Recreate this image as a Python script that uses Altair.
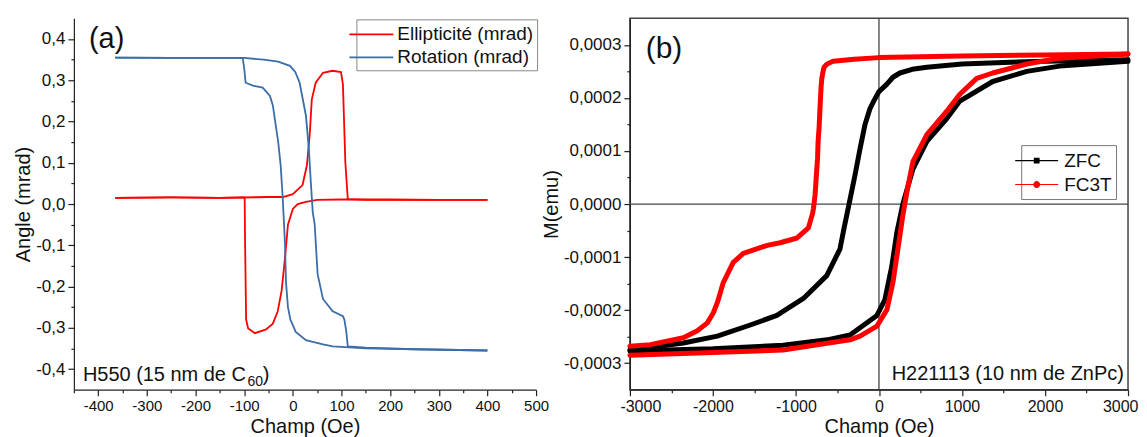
import altair as alt
import pandas as pd

FONT = "Liberation Sans"

# ---------------- panel (a): Kerr loops (H in Oe, angle in mrad) ----------------
A_SERIES = ["Ellipticité (mrad)", "Rotation (mrad)"]
A_COLORS = ["#ff0000", "#3b6ea8"]

ELL_DOWN_H = [400, 300, 200, 100, 50, 27, 10, 0, -10, -16, -23, -31, -41, -55, -78, -92, -96, -98, -99, -150, -250, -365]
ELL_DOWN_V = [0.010, 0.010, 0.011, 0.011, 0.010, 0.005, 0.0, -0.012, -0.05, -0.13, -0.21, -0.26, -0.29, -0.304, -0.313, -0.301, -0.28, -0.10, 0.016, 0.015, 0.016, 0.015]

ELL_UP_H = [-365, -250, -150, -50, -20, 0, 20, 29, 35, 39, 47, 62, 82, 99, 103, 108, 113, 150, 250, 400]
ELL_UP_V = [0.015, 0.016, 0.015, 0.017, 0.017, 0.024, 0.046, 0.094, 0.173, 0.253, 0.294, 0.318, 0.323, 0.320, 0.29, 0.10, 0.012, 0.010, 0.010, 0.010]

ROT_UP_H = [-365, -250, -150, -100, -60, -30, -6, 5, 14, 27, 33, 37, 41, 45, 51, 62, 82, 103, 106, 110, 113, 150, 250, 400]
ROT_UP_V = [0.355, 0.354, 0.354, 0.354, 0.350, 0.345, 0.335, 0.320, 0.294, 0.214, 0.133, 0.053, -0.02, -0.05, -0.17, -0.23, -0.26, -0.272, -0.28, -0.31, -0.345, -0.348, -0.352, -0.355]

ROT_DOWN_H = [400, 250, 150, 82, 62, 27, 6, -5, -10, -14, -16, -18, -21, -25, -30, -35, -41, -47, -62, -82, -97, -100, -103, -250, -365]
ROT_DOWN_V = [-0.355, -0.352, -0.350, -0.345, -0.340, -0.330, -0.310, -0.28, -0.25, -0.19, -0.10, -0.05, 0.02, 0.094, 0.150, 0.190, 0.239, 0.262, 0.282, 0.287, 0.294, 0.330, 0.354, 0.354, 0.355]

# ---------------- panel (b): SQUID loops (H in Oe, M in emu) ----------------
B_SERIES = ["ZFC", "FC3T"]
B_COLORS = ["#000000", "#ff0000"]

ZFC_DOWN_H = [3000, 2000, 1500, 1000, 577, 400, 252, 168, 96, 0, -60, -108, -168, -228, -288, -360, -420, -470, -629, -910, -1230, -1550, -1947, -2356, -3000]
ZFC_DOWN_M = [2.72e-4, 2.69e-4, 2.67e-4, 2.64e-4, 2.58e-4, 2.54e-4, 2.47e-4, 2.39e-4, 2.26e-4, 2.12e-4, 1.95e-4, 1.80e-4, 1.50e-4, 1.04e-4, 0.55e-4, 0.0, -0.45e-4, -0.85e-4, -1.35e-4, -1.78e-4, -2.10e-4, -2.28e-4, -2.49e-4, -2.62e-4, -2.75e-4]

ZFC_UP_H = [-3000, -2000, -1154, -625, -349, -228, -24, 72, 156, 216, 288, 409, 577, 817, 974, 1370, 1780, 2175, 3000]
ZFC_UP_M = [-2.77e-4, -2.73e-4, -2.66e-4, -2.56e-4, -2.47e-4, -2.33e-4, -2.10e-4, -1.80e-4, -1.16e-4, -0.53e-4, 0.0, 0.66e-4, 1.18e-4, 1.61e-4, 1.94e-4, 2.31e-4, 2.50e-4, 2.60e-4, 2.69e-4]

FC_DOWN_H = [3000, 2000, 1000, 0, -300, -553, -625, -661, -668, -680, -688, -697, -703, -712, -720, -733, -740, -752, -762, -770, -781, -790, -800, -850, -986, -1190, -1346, -1500, -1634, -1755, -1875, -1947, -1995, -2067, -2188, -2356, -2752, -3000]
FC_DOWN_M = [2.83e-4, 2.81e-4, 2.79e-4, 2.76e-4, 2.73e-4, 2.69e-4, 2.64e-4, 2.58e-4, 2.54e-4, 2.44e-4, 2.37e-4, 2.21e-4, 2.03e-4, 1.75e-4, 1.47e-4, 1.18e-4, 0.85e-4, 0.59e-4, 0.34e-4, 0.17e-4, 0.02e-4, -0.09e-4, -0.18e-4, -0.45e-4, -0.64e-4, -0.73e-4, -0.78e-4, -0.86e-4, -0.93e-4, -1.10e-4, -1.48e-4, -1.86e-4, -2.05e-4, -2.24e-4, -2.39e-4, -2.52e-4, -2.65e-4, -2.68e-4]

FC_UP_H = [-3000, -2000, -1154, -349, -228, -24, 96, 168, 228, 288, 337, 409, 577, 817, 974, 1178, 1370, 1780, 2175, 3000]
FC_UP_M = [-2.85e-4, -2.80e-4, -2.75e-4, -2.56e-4, -2.49e-4, -2.30e-4, -1.99e-4, -1.48e-4, -0.85e-4, -0.21e-4, 0.23e-4, 0.80e-4, 1.31e-4, 1.75e-4, 2.07e-4, 2.37e-4, 2.47e-4, 2.64e-4, 2.75e-4, 2.83e-4]

# annotations: text, H, value
A_NOTES = [("(a)", -419, 0.377)]
A_SAMPLE = [("H550 (15 nm de C", -431.5, -0.428), (")", -62, -0.428)]
A_SUB = [("60", -93, -0.440)]
B_NOTES = [("(b)", -2810, 2.747e-4)]
B_SAMPLE = [("H221113 (10 nm de ZnPc)", 2950, -3.312e-4)]


def branch(series, name, h, v):
    return pd.DataFrame({"H": h, "V": v, "series": series, "branch": name, "idx": list(range(len(h)))})


dfa = pd.concat([
    branch(A_SERIES[0], "e_down", ELL_DOWN_H, ELL_DOWN_V),
    branch(A_SERIES[0], "e_up", ELL_UP_H, ELL_UP_V),
    branch(A_SERIES[1], "r_up", ROT_UP_H, ROT_UP_V),
    branch(A_SERIES[1], "r_down", ROT_DOWN_H, ROT_DOWN_V),
], ignore_index=True)

dfb = pd.concat([
    branch(B_SERIES[0], "z_down", ZFC_DOWN_H, ZFC_DOWN_M),
    branch(B_SERIES[0], "z_up", ZFC_UP_H, ZFC_UP_M),
    branch(B_SERIES[1], "f_down", FC_DOWN_H, FC_DOWN_M),
    branch(B_SERIES[1], "f_up", FC_UP_H, FC_UP_M),
], ignore_index=True)


def notes(rows):
    return pd.DataFrame({"t": [r[0] for r in rows], "H": [r[1] for r in rows], "V": [r[2] for r in rows]})


AX = dict(grid=False, domainColor="#222", tickColor="#222", labelColor="#111", titleColor="#111",
          labelFont=FONT, titleFont=FONT, titleFontWeight="normal", titleFontSize=20,
          domainWidth=1.2, tickWidth=1.2, labelOverlap=False)

# ---- panel (a) axes ----
xa = alt.X("H:Q", scale=alt.Scale(domain=[-450, 500], nice=False, zero=False),
           axis=alt.Axis(title="Champ (Oe)", values=list(range(-450, 501, 50)),
                         labelExpr="datum.value % 100 === 0 ? replace(format(datum.value, 'd'), '\u2212', '-') : ''",
                         tickSize={"condition": {"test": "datum.value % 100 === 0", "value": 6}, "value": 3},
                         labelFontSize=15, labelPadding=3, titlePadding=3, labelFlush=False, **AX))
ya = alt.Y("V:Q", scale=alt.Scale(domain=[-0.45, 0.45], nice=False, zero=False),
           axis=alt.Axis(title="Angle (mrad)", values=[round(i * 0.05, 2) for i in range(-8, 9)],
                         labelExpr="round(datum.value * 100) % 10 === 0 ? replace(replace(format(datum.value, '.1f'), '.', ','), '\u2212', '-') : ''",
                         tickSize={"condition": {"test": "round(datum.value * 100) % 10 === 0", "value": 6}, "value": 3},
                         labelFontSize=17, labelPadding=3, titlePadding=2, labelFlush=False, **AX))

lega = alt.Legend(title=None, orient="none", legendX=283, legendY=1,
                  symbolType="M-2,0H2", symbolSize=484, symbolStrokeWidth=1.8,
                  labelFontSize=19, labelFont=FONT, labelColor="#111", labelOffset=14,
                  strokeColor="#888", fillColor="white", padding=3, rowPadding=1)

lines_a = alt.Chart(dfa).mark_line(strokeWidth=1.8).encode(
    x=xa, y=ya,
    color=alt.Color("series:N", scale=alt.Scale(domain=A_SERIES, range=A_COLORS), legend=lega),
    detail="branch:N", order="idx:Q")

txt_a = alt.Chart(notes(A_NOTES)).mark_text(align="left", baseline="alphabetic", font=FONT, fontSize=29, color="#111").encode(x=xa, y=ya, text="t:N")
smp_a = alt.Chart(notes(A_SAMPLE)).mark_text(align="left", baseline="alphabetic", font=FONT, fontSize=20, color="#111").encode(x=xa, y=ya, text="t:N")
sub_a = alt.Chart(notes(A_SUB)).mark_text(align="left", baseline="alphabetic", font=FONT, fontSize=14, color="#111").encode(x=xa, y=ya, text="t:N")

left = alt.layer(lines_a, txt_a, smp_a, sub_a).properties(width=463, height=372)

# ---- panel (b) axes ----
xb = alt.X("H:Q", scale=alt.Scale(domain=[-3000, 3000], nice=False, zero=False),
           axis=alt.Axis(title="Champ (Oe)", values=list(range(-3000, 3001, 500)),
                         labelExpr="datum.value % 1000 === 0 ? replace(format(datum.value, 'd'), '\u2212', '-') : ''",
                         tickSize={"condition": {"test": "datum.value % 1000 === 0", "value": 6}, "value": 3},
                         labelFontSize=16, labelPadding=3, titlePadding=2,
                         labelFlush=True, labelFlushOffset=10, **AX))
yb = alt.Y("V:Q", scale=alt.Scale(domain=[-3.5e-4, 3.5e-4], nice=False, zero=False),
           axis=alt.Axis(title="M(emu)", values=[i * 0.5e-4 for i in range(-6, 7)],
                         labelExpr="round(datum.value * 100000) % 10 === 0 ? replace(replace(format(datum.value, '.4f'), '.', ','), '\u2212', '-') : ''",
                         tickSize={"condition": {"test": "round(datum.value * 100000) % 10 === 0", "value": 6}, "value": 3},
                         labelFontSize=17, labelPadding=3, titlePadding=2, labelFlush=False, **AX))

ZFC_PATH = "M-2,0H2M-0.22,-0.22H0.22V0.22H-0.22Z"
FC_PATH = "M-2,0H2M-0.27,0A0.27,0.27 0 1,1 0.27,0A0.27,0.27 0 1,1 -0.27,0Z"

legb = alt.Legend(title=None, orient="none", legendX=392, legendY=127,
                  symbolType=alt.ExprRef("datum.value === 'ZFC' ? '%s' : '%s'" % (ZFC_PATH, FC_PATH)),
                  symbolFillColor=alt.ExprRef("datum.value === 'ZFC' ? '#000000' : '#ff0000'"),
                  symbolSize=462, symbolStrokeWidth=1.1,
                  labelFontSize=19, labelFont=FONT, labelColor="#111", labelOffset=16,
                  strokeColor="#777", fillColor="white", padding=4, rowPadding=2)

zero_x = alt.Chart(pd.DataFrame({"H": [0]})).mark_rule(color="#444", strokeWidth=1.3).encode(x=xb)
zero_y = alt.Chart(pd.DataFrame({"V": [0.0]})).mark_rule(color="#444", strokeWidth=1.3).encode(y=yb)

lines_b = alt.Chart(dfb).mark_line(strokeWidth=5, strokeCap="round", strokeJoin="round").encode(
    x=xb, y=yb,
    color=alt.Color("series:N", scale=alt.Scale(domain=B_SERIES, range=B_COLORS), legend=legb),
    detail="branch:N", order="idx:Q")

txt_b = alt.Chart(notes(B_NOTES)).mark_text(align="left", baseline="alphabetic", font=FONT, fontSize=30, color="#111").encode(x=xb, y=yb, text="t:N")
smp_b = alt.Chart(notes(B_SAMPLE)).mark_text(align="right", baseline="alphabetic", font=FONT, fontSize=20, color="#111").encode(x=xb, y=yb, text="t:N")

right = alt.layer(zero_x, zero_y, lines_b, txt_b, smp_b).properties(
    width=499, height=372, view=alt.ViewBackground(stroke="#444", strokeWidth=1.5))

chart = alt.hconcat(left, right, spacing=94, bounds="flush").resolve_scale(
    color="independent"
).resolve_legend(
    color="independent"
).properties(
    padding={"left": 5, "top": 8, "right": 0, "bottom": 0},
    background="white",
).configure_view(stroke=None)

chart.save("out.html", embed_options={"renderer": "svg", "actions": False})
